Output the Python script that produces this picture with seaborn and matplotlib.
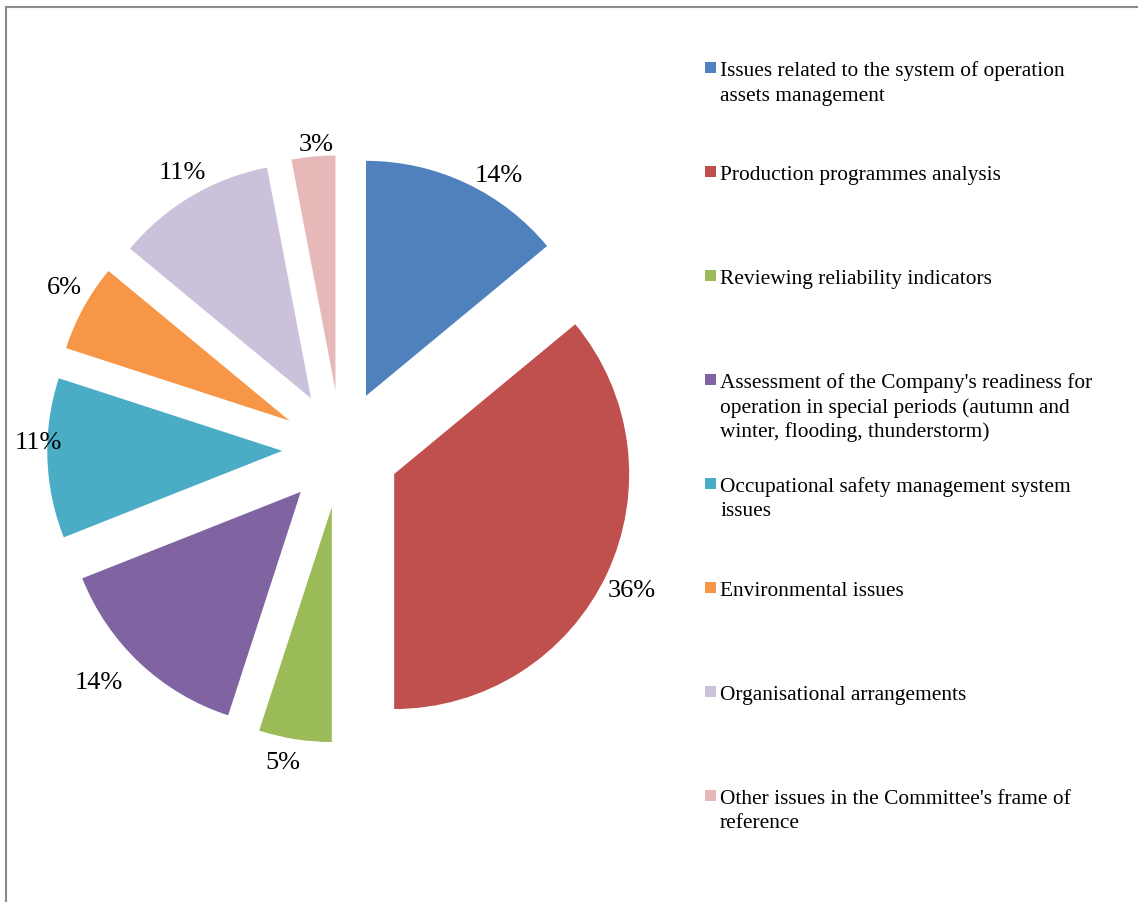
import matplotlib
matplotlib.use("Agg")
import numpy as np
import matplotlib.pyplot as plt
from matplotlib.patches import Rectangle
import seaborn as sns

# data
categories = [
    "Issues related to the system of operation\nassets management",
    "Production programmes analysis",
    "Reviewing reliability indicators",
    "Assessment of the Company's readiness for\noperation in special periods (autumn and\nwinter, flooding, thunderstorm)",
    "Occupational safety management system\nissues",
    "Environmental issues",
    "Organisational arrangements",
    "Other issues in the Committee's frame of\nreference",
]
shares = [14, 36, 5, 14, 11, 6, 11, 3]
colors = ["#4F81BD", "#C0504D", "#9BBB59", "#8064A2",
          "#4BACC6", "#F79646", "#CCC1DA", "#E6B9B8"]

# label placement tweaks (outside-end style): radius and clockwise turn in degrees
pct_dist = [1.11, 1.12, 1.09, 1.17, 1.04, 1.12, 1.12, 1.065]
pct_turn = [5.5, 0.2, 2.0, 4.0, 4.6, 2.5, 1.2, 0.9]

sns.set_theme(style="white")
plt.rcParams['font.family'] = ['Liberation Serif', 'DejaVu Serif']

W, H = 1138, 903
fig = plt.figure(figsize=(W / 100, H / 100), dpi=100)
fig.patch.set_facecolor("white")

# pie axes: centre (341, 450) px, radius 235 px
cx, cy, R = 341, 450, 235
xl, yl = 1.45, 1.6
ax = fig.add_axes([(cx - xl * R) / W, 1 - (cy + yl * R) / H,
                   2 * xl * R / W, 2 * yl * R / H])
pal = sns.color_palette(colors)
wedges, texts, autotexts = ax.pie(
    shares, colors=pal, startangle=90, counterclock=False,
    explode=[0.25] * len(shares), autopct='%1.0f%%', pctdistance=1.1,
    wedgeprops=dict(linewidth=0), textprops=dict(fontsize=19, color="black"))

for w, t, d, turn in zip(wedges, autotexts, pct_dist, pct_turn):
    mid = np.deg2rad((w.theta1 + w.theta2) / 2 - turn)
    ex, ey = w.center
    t.set_position((ex + d * np.cos(mid), ey + d * np.sin(mid) - 0.013))

ax.set_xlim(-xl, xl)
ax.set_ylim(-yl, yl)
ax.axis("off")

# legend drawn by hand so markers line up with the first text line
for i, (lab, col) in enumerate(zip(categories, colors)):
    base = 76 + 104 * i
    fig.add_artist(Rectangle((705 / W, 1 - (base - 2) / H), 11 / W, 11 / H,
                             transform=fig.transFigure, color=col, lw=0))
    for j, line in enumerate(lab.split("\n")):
        fig.text(720 / W, 1 - (base + 24.5 * j) / H, line, fontsize=15.4,
                 va="baseline", ha="left", color="black")

# frame border (top and left visible)
fig.add_artist(Rectangle((6 / W, -0.05), 1.2, 1 - 8 / H + 0.05,
                         transform=fig.transFigure, fill=False,
                         edgecolor="#8a8a8a", lw=1.5))

fig.savefig("out.png", dpi=100, facecolor="white")
